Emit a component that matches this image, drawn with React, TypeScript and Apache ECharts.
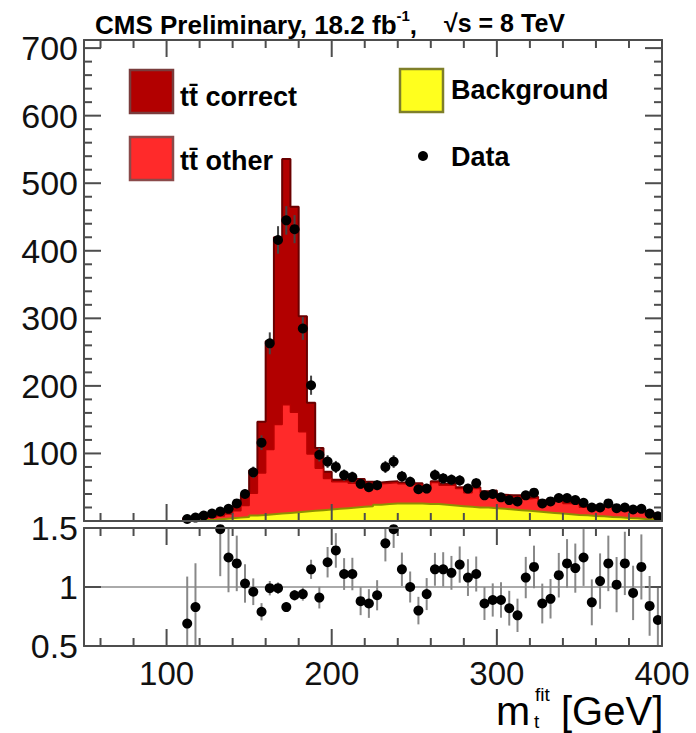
import React, { useEffect, useRef } from 'react';
import * as echarts from 'echarts';

// ---- data ----
const binCenters = [112.5, 117.5, 122.5, 127.5, 132.5, 137.5, 142.5, 147.5, 152.5, 157.5, 162.5, 167.5, 172.5, 177.5, 182.5, 187.5, 192.5, 197.5, 202.5, 207.5, 212.5, 217.5, 222.5, 227.5, 232.5, 237.5, 242.5, 247.5, 252.5, 257.5, 262.5, 267.5, 272.5, 277.5, 282.5, 287.5, 292.5, 297.5, 302.5, 307.5, 312.5, 317.5, 322.5, 327.5, 332.5, 337.5, 342.5, 347.5, 352.5, 357.5, 362.5, 367.5, 372.5, 377.5, 382.5, 387.5, 392.5, 397.5];

const dataCounts = [3, 5, 8, 11, 14, 18, 26, 40, 72, 116, 263, 416, 445, 432, 285, 201, 98, 88, 80, 68, 65, 55, 50, 53, 80, 88, 66, 58, 47, 48, 68, 63, 61, 60, 48, 56, 38, 40, 35, 31, 29, 38, 42, 26, 29, 34, 34, 31, 27, 20, 20, 26, 19, 20, 17, 18, 11, 7];

const ratioValues = [0.69, 0.83, null, null, 1.49, 1.25, 1.2, 1.03, 0.96, 0.79, 0.99, 0.99, 0.83, 0.93, 0.94, 1.15, 0.91, 1.21, 1.31, 1.11, 1.11, 0.88, 0.86, 0.93, 1.37, 1.49, 1.15, 1.0, 0.8, 0.94, 1.15, 1.15, 1.12, 1.19, 1.08, 1.11, 0.86, 0.89, 0.89, 0.82, 0.76, 1.08, 1.17, 0.86, 0.9, 1.1, 1.2, 1.16, 1.25, 0.87, 1.05, 1.2, 1.02, 1.2, 0.95, 1.17, 0.84, 0.72];

const background = [0.5, 1, 1.5, 2, 3, 4, 5, 6, 8, 9, 10, 11, 12, 13, 14, 15, 16, 17, 18, 19, 20, 21, 22, 24, 25, 26, 26, 26, 26, 25, 25, 24, 23, 22, 21, 20, 20, 19, 18, 17, 16, 15, 14, 13, 12, 11, 10, 9, 8.5, 7.5, 7, 6, 5.5, 4.5, 4, 3, 2.5, 2];

const ttOther = [2.5, 3, 2.5, 3.5, 4.5, 6.5, 10, 17, 33, 62, 96, 132, 160, 148, 118, 84, 62, 46, 40, 39, 36, 39, 34, 31, 31, 31, 29, 30, 28, 24, 32, 29, 30, 26, 21, 28, 22, 24, 19, 19, 20, 18, 20, 15, 18, 18, 16, 16, 12, 14, 10.5, 14.5, 12, 11, 12.5, 11.5, 9.5, 7];

const ttCorrect = [1.5, 2, 1, 1.5, 2, 4, 7, 16, 34, 76, 160, 277, 364, 304, 171, 76, 30, 10, 3, 3, 3, 2, 2, 2, 2, 2, 2, 2, 2, 2, 2, 2, 2, 2, 2, 2, 2, 2, 2, 2, 2, 2, 2, 2, 2, 2, 2, 2, 1.5, 1.5, 1.5, 1.5, 1.5, 1.5, 1.5, 1, 1, 1];

const xTickLabels = [100, 200, 300, 400];
const yTickLabels = [100, 200, 300, 400, 500, 600, 700];
const ratioTickLabels = [0.5, 1, 1.5];

// tick positions (major at labelled values, minor every 20)
const xMajorTicks = [100, 200, 300, 400];
const xMinorTicks = [60, 80, 120, 140, 160, 180, 220, 240, 260, 280, 320, 340, 360, 380];
const yMajorTicks = [100, 200, 300, 400, 500, 600, 700];
const yMinorTicks = [20, 40, 60, 80, 120, 140, 160, 180, 220, 240, 260, 280, 320, 340, 360, 380, 420, 440, 460, 480, 520, 540, 560, 580, 620, 640, 660, 680];
const rMajorTicks = [0.5, 1, 1.5];

// ---- styling / layout ----
const FONT = "'Liberation Sans', Arial, Helvetica, sans-serif";
const FRAME = '#4d4d4d';
const HALF_BIN = 2.5;
const X_MIN = 50, X_MAX = 400, Y_MAX = 712, R_MIN = 0.5, R_MAX = 1.5;
const GRID_W = 578, MAIN_H = 481, RATIO_H = 118;
const MAJOR = 17, MINOR = 8;

function stepPoints(vals: number[]) {
  const pts: number[][] = [[binCenters[0] - HALF_BIN, 0]];
  vals.forEach((v, i) => {
    pts.push([binCenters[i] - HALF_BIN, v]);
    pts.push([binCenters[i] + HALF_BIN, v]);
  });
  pts.push([binCenters[binCenters.length - 1] + HALF_BIN, 0]);
  return pts;
}

function mkX(gridIndex: number, position: string, labels?: number[]) {
  return {
    type: 'value', gridIndex, position, min: X_MIN, max: X_MAX, z: 10,
    axisLine: { show: true, onZero: false, lineStyle: { color: FRAME, width: 2 } },
    axisTick: { show: false },
    axisLabel: labels
      ? { show: true, customValues: labels, fontSize: 33, lineHeight: 28, color: '#111', margin: 13, fontFamily: FONT }
      : { show: false },
    splitLine: { show: false },
  };
}

function mkY(gridIndex: number, position: string, min: number, max: number, labels?: number[]) {
  return {
    type: 'value', gridIndex, position, min, max, z: 10,
    axisLine: { show: true, onZero: false, lineStyle: { color: FRAME, width: 2 } },
    axisTick: { show: false },
    axisLabel: labels
      ? { show: true, customValues: labels, fontSize: 34, color: '#111', margin: 6, fontFamily: FONT }
      : { show: false },
    splitLine: { show: false },
  };
}

// tick segments for a panel, in pixel space via api.coord
function tickChildren(api: any, yLo: number, yHi: number, yMaj: number[], yMin: number[]) {
  const out: any[] = [];
  const st = () => ({ stroke: FRAME, lineWidth: 2 });
  const xs: number[][] = [...xMajorTicks.map((v) => [v, MAJOR]), ...xMinorTicks.map((v) => [v, MINOR])];
  const ys: number[][] = [...yMaj.map((v) => [v, MAJOR]), ...yMin.map((v) => [v, MINOR])];
  xs.forEach(([v, len]) => {
    const b = api.coord([v, yLo]);
    const t = api.coord([v, yHi]);
    out.push({ type: 'line', shape: { x1: b[0], y1: b[1], x2: b[0], y2: b[1] - len }, style: st() });
    out.push({ type: 'line', shape: { x1: t[0], y1: t[1], x2: t[0], y2: t[1] + len }, style: st() });
  });
  ys.forEach(([v, len]) => {
    const l = api.coord([X_MIN, v]);
    const r = api.coord([X_MAX, v]);
    out.push({ type: 'line', shape: { x1: l[0], y1: l[1], x2: l[0] + len, y2: l[1] }, style: st() });
    out.push({ type: 'line', shape: { x1: r[0], y1: r[1], x2: r[0] - len, y2: r[1] }, style: st() });
  });
  return out;
}

function pointSeries(name: string, xi: number, yi: number, data: any[], lo: number, hi: number, barColor: string, yMaj: number[], yMin: number[]) {
  return {
    name, type: 'custom', xAxisIndex: xi, yAxisIndex: yi, z: 6, clip: false,
    data,
    renderItem: (params: any, api: any) => {
      const x = api.value(0), y = api.value(1), e = api.value(2);
      const p = api.coord([x, y]);
      const a = api.coord([x, Math.max(lo, y - e)]);
      const b = api.coord([x, Math.min(hi, y + e)]);
      const children: any[] = [
        { type: 'line', shape: { x1: p[0], y1: a[1], x2: p[0], y2: b[1] }, style: { stroke: barColor, lineWidth: 2 } },
        { type: 'circle', shape: { cx: p[0], cy: p[1], r: 5 }, style: { fill: '#000' } },
      ];
      if (params.dataIndex === 0) children.push(...tickChildren(api, lo, hi, yMaj, yMin));
      return { type: 'group', children };
    },
  };
}

export default function App() {
  const ref = useRef<HTMLDivElement>(null);

  useEffect(() => {
    if (!ref.current) return;
    const chart = echarts.init(ref.current, null, { renderer: 'svg' });

    const cumOther = background.map((b, i) => b + ttOther[i]);
    const cumCorrect = cumOther.map((c, i) => c + ttCorrect[i]);

    const mainData = binCenters.map((x, i) => [x, dataCounts[i], Math.sqrt(dataCounts[i])]);
    const ratioData = binCenters
      .map((x, i) => (ratioValues[i] == null ? null : [x, ratioValues[i] as number, (ratioValues[i] as number) / Math.sqrt(dataCounts[i])]))
      .filter((d) => d !== null);

    const txt = (x: number, y: number, text: string, size: number, bold = true, lh?: number) => ({
      type: 'text', x, y, z: 20,
      style: { text, fontSize: size, fontWeight: bold ? 'bold' : 'normal', fontFamily: FONT, fill: '#000', verticalAlign: 'middle', ...(lh ? { lineHeight: lh } : {}) },
    });

    const option: any = {
      animation: false,
      grid: [
        { left: 84, top: 40, width: GRID_W, height: MAIN_H, show: false },
        { left: 84, top: 528, width: GRID_W, height: RATIO_H, show: false },
      ],
      xAxis: [
        mkX(0, 'bottom'),
        mkX(0, 'top'),
        mkX(1, 'bottom', xTickLabels),
        mkX(1, 'top'),
      ],
      yAxis: [
        mkY(0, 'left', 0, Y_MAX, yTickLabels),
        mkY(0, 'right', 0, Y_MAX),
        mkY(1, 'left', R_MIN, R_MAX, ratioTickLabels),
        mkY(1, 'right', R_MIN, R_MAX),
      ],
      graphic: [
        {
          type: 'text', x: 95, y: 23, z: 20,
          style: {
            text: '{a|CMS Preliminary, 18.2 fb}{b|-1}{a|,}',
            verticalAlign: 'middle',
            rich: {
              a: { fontSize: 26, fontWeight: 'bold', fontFamily: FONT, fill: '#000', color: '#000', lineHeight: 30, verticalAlign: 'bottom' },
              b: { fontSize: 15, fontWeight: 'bold', fontFamily: FONT, fill: '#000', color: '#000', lineHeight: 30, verticalAlign: 'top' },
            },
          },
        },
        txt(444, 23, '√s = 8 TeV', 25),
        // legend
        { type: 'rect', shape: { x: 130, y: 70, width: 43, height: 43 }, style: { fill: '#b20000', stroke: '#7a3c3c', lineWidth: 2.5 }, z: 20 },
        txt(180, 97, 'tt\u0304 correct', 27),
        { type: 'rect', shape: { x: 130, y: 137, width: 43, height: 43 }, style: { fill: '#ff2a2a', stroke: '#8a4a4a', lineWidth: 2.5 }, z: 20 },
        txt(180, 161, 'tt\u0304 other', 27),
        { type: 'rect', shape: { x: 400, y: 69, width: 43, height: 43 }, style: { fill: '#ffff1e', stroke: '#7f7f2a', lineWidth: 2.5 }, z: 20 },
        txt(451, 90, 'Background', 27),
        { type: 'circle', shape: { cx: 423, cy: 156, r: 5 }, style: { fill: '#000' }, z: 20 },
        txt(451, 157, 'Data', 27),
        // x axis title
        txt(496, 711, 'm', 41, false, 36),
        txt(535, 694, 'fit', 19, false, 18),
        txt(534, 721, 't', 19, false, 18),
        txt(561, 711, '[GeV]', 40, false, 36),
      ],
      series: [
        {
          name: 'tt correct', type: 'line', xAxisIndex: 0, yAxisIndex: 0, z: 2,
          data: stepPoints(cumCorrect), showSymbol: false, symbol: 'none',
          lineStyle: { color: '#6a0000', width: 2 },
          areaStyle: { color: '#b20000', opacity: 1 },
        },
        {
          name: 'tt other', type: 'line', xAxisIndex: 0, yAxisIndex: 0, z: 3,
          data: stepPoints(cumOther), showSymbol: false, symbol: 'none',
          lineStyle: { color: '#b80000', width: 1.5 },
          areaStyle: { color: '#ff2a2a', opacity: 1 },
        },
        {
          name: 'Background', type: 'line', xAxisIndex: 0, yAxisIndex: 0, z: 4,
          data: stepPoints(background), showSymbol: false, symbol: 'none',
          lineStyle: { color: '#8f8f00', width: 2 },
          areaStyle: { color: '#ffff1e', opacity: 1 },
        },
        pointSeries('Data', 0, 0, mainData, 0, Y_MAX, '#444', yMajorTicks, yMinorTicks),
        {
          name: 'unity', type: 'line', xAxisIndex: 2, yAxisIndex: 2, z: 1,
          data: [[X_MIN, 1], [X_MAX, 1]], showSymbol: false, symbol: 'none',
          lineStyle: { color: '#aaaaaa', width: 2 },
        },
        pointSeries('Ratio', 2, 2, ratioData, R_MIN, R_MAX, '#888', rMajorTicks, []),
      ],
    };

    chart.setOption(option);
    return () => chart.dispose();
  }, []);

  return <div ref={ref} style={{ position: 'fixed', left: 0, top: 0, width: 696, height: 733, background: '#fff' }} />;
}
